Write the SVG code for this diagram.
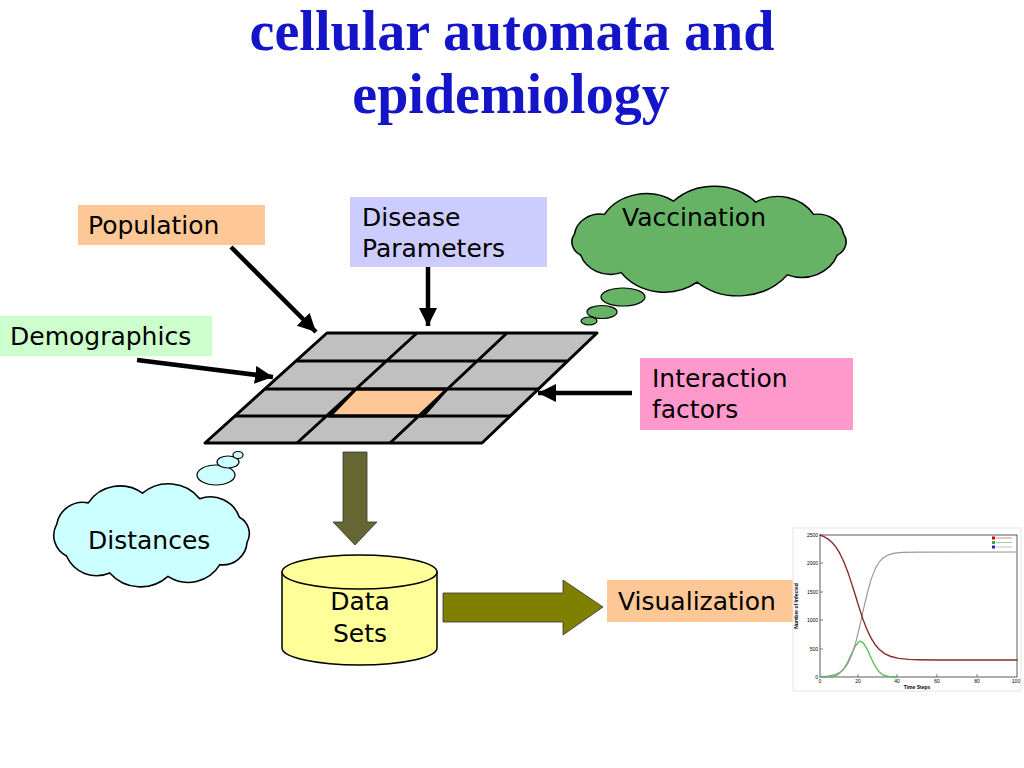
<svg xmlns="http://www.w3.org/2000/svg" width="1024" height="768" viewBox="0 0 1024 768">
<defs>
<style>
.lbl{font-family:"DejaVu Sans","Noto Sans",sans-serif;font-size:25px;fill:#000}
.title{font-family:"Liberation Serif","Times New Roman",serif;font-weight:bold;font-size:56px;fill:#1414c8}
.cell{fill:#c0c0c0;stroke:#000;stroke-width:3;stroke-linejoin:round}
.conn{stroke:#000;stroke-width:4.5;fill:none}
.tick{font-family:"Liberation Sans",Arial,sans-serif;font-size:5px;fill:#000}
.curve{fill:none;stroke-linejoin:round;stroke-linecap:round}
</style>
<marker id="ah" markerUnits="userSpaceOnUse" markerWidth="20" markerHeight="18" refX="18" refY="9" orient="auto">
<path d="M0,0 L18,9 L0,18 z" fill="#000"/>
</marker>
</defs>
<rect width="1024" height="768" fill="#fff"/>

<g id="title">
<text class="title" x="512" y="50" text-anchor="middle">cellular automata and</text>
<text class="title" x="511" y="113" text-anchor="middle">epidemiology</text>
</g>

<g id="grid">
<path class="cell" d="M327,333 L597,333 L482,443 L205,443 Z"/>
<path class="cell" d="M356,389 L447,389 L423,416 L330,416 Z" style="fill:#fdc896"/>
<path d="M296,361 L567,361 M265,389 L538,389 M235,416 L510,416 M417,333 L297,443 M507,333 L390,443" stroke="#000" stroke-width="3" fill="none"/>
</g>

<g id="population">
<rect x="78" y="205" width="187" height="40" fill="#fdc896"/>
<text class="lbl" x="88" y="234">Population</text>
</g>

<g id="demographics">
<rect x="0" y="316" width="212" height="40" fill="#ccffcc"/>
<text class="lbl" x="10" y="345">Demographics</text>
</g>

<g id="disease">
<rect x="350" y="197" width="197" height="70" fill="#ccccff"/>
<text class="lbl" x="362" y="226">Disease</text>
<text class="lbl" x="362" y="257">Parameters</text>
</g>

<g id="interaction">
<rect x="640" y="358" width="213" height="72" fill="#ff99cc"/>
<text class="lbl" x="652" y="387">Interaction</text>
<text class="lbl" x="652" y="418">factors</text>
</g>

<g id="vaccination">
<path transform="translate(709,241) scale(1.05,0.94) translate(-709,-241)" d="M580.9,233.4 A24.6,24.6 0 0 1 609.4,212.7 A47,47 0 0 1 675.3,198.5 A55,55 0 0 1 753.5,199.6 A40,40 0 0 1 808.6,212.7 A25,25 0 0 1 837.1,233.4 A16,16 0 0 1 831.2,256 A36,36 0 0 1 783.6,277 A60,60 0 0 1 697.7,284.8 A51,51 0 0 1 625.4,274.7 A30,30 0 0 1 586.8,256 A16,16 0 0 1 580.9,233.4 Z" fill="#66b366" stroke="#000" stroke-width="1.5"/>
<ellipse cx="623" cy="297" rx="22" ry="9" fill="#66b366" stroke="#000" stroke-width="1.2"/>
<ellipse cx="602" cy="312" rx="15" ry="6.5" fill="#66b366" stroke="#000" stroke-width="1.2"/>
<ellipse cx="589" cy="321" rx="8" ry="4" fill="#66b366" stroke="#000" stroke-width="1.2"/>
<text class="lbl" x="622" y="226">Vaccination</text>
</g>

<g id="distances">
<path transform="translate(151,535) scale(1.06,1.05) translate(-151,-535)" d="M62.1,524.6 A25,25 0 0 1 91.8,504.4 A36,36 0 0 1 143,495.2 A38,38 0 0 1 197,500.4 A29,29 0 0 1 234.4,518.1 A17.5,17.5 0 0 1 241.6,542 A23,23 0 0 1 216,563.3 A35,35 0 0 1 167,574.4 A38.5,38.5 0 0 1 112.1,571.2 A31,31 0 0 1 71.3,555 A22,22 0 0 1 62.1,524.6 Z" fill="#ccffff" stroke="#000" stroke-width="1.5"/>
<ellipse cx="216" cy="475" rx="19" ry="10" fill="#ccffff" stroke="#000" stroke-width="1.2"/>
<ellipse cx="228" cy="462" rx="11" ry="6" fill="#ccffff" stroke="#000" stroke-width="1.2"/>
<ellipse cx="238" cy="455" rx="5" ry="3.5" fill="#ccffff" stroke="#000" stroke-width="1.2"/>
<text class="lbl" x="88" y="549">Distances</text>
</g>

<g id="datasets">
<path d="M282,572 L282,648 A77.5,17 0 0 0 437,648 L437,572 Z" fill="#ffff99" stroke="#000" stroke-width="1.5"/>
<ellipse cx="359.5" cy="572" rx="77.5" ry="17" fill="#ffff99" stroke="#000" stroke-width="1.5"/>
<text class="lbl" x="360" y="610" text-anchor="middle">Data</text>
<text class="lbl" x="360" y="642" text-anchor="middle">Sets</text>
</g>

<g id="visualization">
<rect x="607" y="580" width="188" height="42" fill="#fdc896"/>
<text class="lbl" x="618" y="610">Visualization</text>
</g>

<g id="chart">
<rect x="793" y="528" width="228" height="163" fill="#fff" stroke="#e4e4e4" stroke-width="1"/>
<rect x="820" y="535" width="197" height="142" fill="none" stroke="#333" stroke-width="0.8"/>
<g stroke="#333" stroke-width="0.6">
<path d="M820,563 h3 M820,592 h3 M820,620 h3 M820,649 h3 M858,677 v-3 M897,677 v-3 M937,677 v-3 M977,677 v-3"/>
</g>
<g class="tick" text-anchor="end">
<text x="818" y="537">2500</text>
<text x="818" y="565">2000</text>
<text x="818" y="594">1500</text>
<text x="818" y="622">1000</text>
<text x="818" y="651">500</text>
<text x="818" y="679">0</text>
</g>
<g class="tick" text-anchor="middle">
<text x="820" y="683">0</text>
<text x="858" y="683">20</text>
<text x="897" y="683">40</text>
<text x="937" y="683">60</text>
<text x="977" y="683">80</text>
<text x="1016" y="683">100</text>
<text x="917" y="689" font-weight="bold">Time Steps</text>
<text x="0" y="0" transform="translate(798,606) rotate(-90)" font-weight="bold">Number of Infected</text>
</g>
<polyline class="curve" points="820,677 823.9,677 831.8,676.6 837.7,674.8 843.6,669.3 847.6,662.4 851.5,653.7 855.5,645.7 859.4,641.4 860.4,641.2 863.3,642.9 867.3,649.4 871.2,658.2 875.2,666.2 879.1,671.8 883,674.9 889,676.6 896.8,677" stroke="#55bb55" stroke-width="1.3"/>
<polyline class="curve" points="820,676.7 827.9,676.2 835.8,674.4 839.7,672.5 843.6,669.2 847.6,663.9 851.5,655.5 855.5,643.4 859.4,627.7 863.3,610.1 867.3,593.1 871.2,579.1 875.2,568.9 879.1,562.2 883,558 889,554.6 894.9,553.2 902.7,552.4 918.5,552.1 1017,552" stroke="#999" stroke-width="1.2"/>
<polyline class="curve" points="820,535 823.9,536.6 827.9,538.9 831.8,542.3 835.8,546.9 839.7,553.2 843.6,561.3 847.6,571.4 851.5,583.1 855.5,595.8 859.4,608.4 863.3,620.2 867.3,630.3 871.2,638.4 875.2,644.7 879.1,649.3 885,653.9 890.9,656.5 898.8,658.4 908.7,659.4 918.5,659.7 938.2,660 1017,660" stroke="#8b2a2a" stroke-width="1.4"/>
<rect x="992" y="536.5" width="3" height="3" fill="#c00"/>
<path d="M996,538 h16" stroke="#c33" stroke-width="0.6"/>
<rect x="992" y="541" width="3" height="3" fill="#3a3"/>
<path d="M996,542.5 h16" stroke="#5b5" stroke-width="0.6"/>
<rect x="992" y="545.5" width="3" height="3" fill="#22c"/>
<path d="M996,547 h16" stroke="#999" stroke-width="0.6"/>
</g>

<g id="connectors">
<line class="conn" x1="231" y1="247" x2="316" y2="332" marker-end="url(#ah)"/>
<line class="conn" x1="428" y1="267" x2="428" y2="326" marker-end="url(#ah)"/>
<line class="conn" x1="137" y1="360" x2="273" y2="377" marker-end="url(#ah)"/>
<line class="conn" x1="632" y1="393" x2="538" y2="393" marker-end="url(#ah)"/>
<path d="M343,452 L367,452 L367,522 L377,522 L355,545 L333,522 L343,522 Z" fill="#666633" stroke="#333" stroke-width="0.8"/>
<path d="M443,593 L563,593 L563,580 L603,607 L563,635 L563,622 L443,622 Z" fill="#808000" stroke="#333" stroke-width="0.8"/>
</g>
</svg>
